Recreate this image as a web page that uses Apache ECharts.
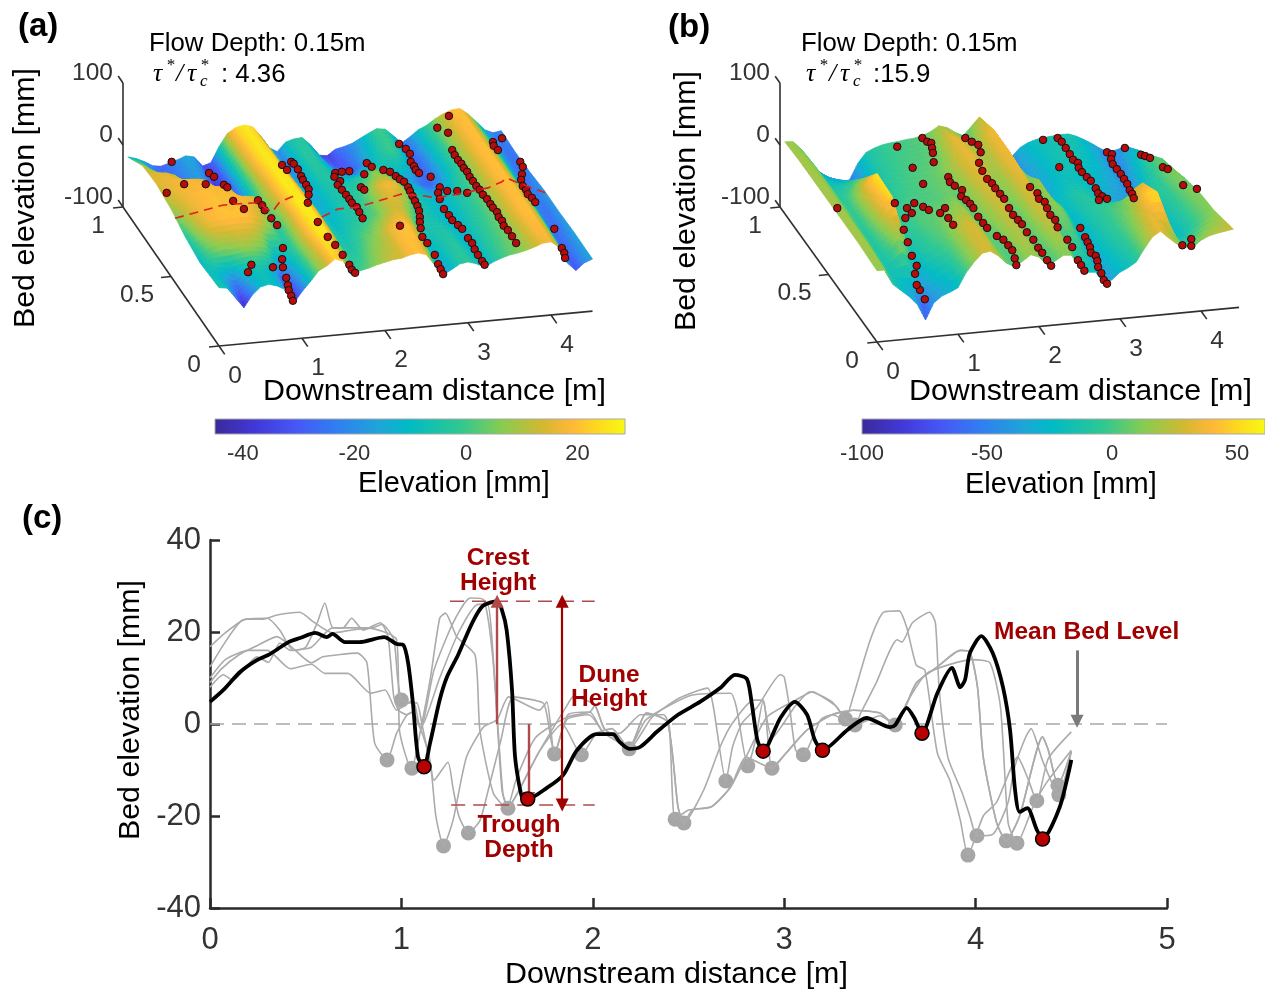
<!DOCTYPE html>
<html>
<head>
<meta charset="utf-8">
<title>Bed elevation</title>
<script src="https://cdn.jsdelivr.net/npm/echarts@6/dist/echarts.min.js"></script>
<style>
html,body{margin:0;padding:0;background:#fff;overflow:hidden}
#main{width:1265px;height:994px}
</style>
</head>
<body>
<div id="main"></div>
<script>
// ---- panel (a) surface, elevation in mm, one row per cross-stream position
var colsA = [0,0.1,0.2,0.3,0.4,0.5,0.6,0.7,0.8,0.9,1,1.1,1.2,1.3,1.4,1.5,1.6,1.7,1.8,1.9,2,2.1,2.2,2.3,2.4,2.5,2.6,2.7,2.8,2.9,3,3.1,3.2,3.3,3.4,3.5,3.6,3.7,3.8,3.9,4,4.1,4.2,4.3,4.4,4.5];
var rowsA = [0.95,0.8,0.72,0.65,0.58,0.5,0.35,0.2,0.1,0];
var bedA95 = [-8,-12,-18,-26,-28,-24,-20,-15,-18,-34,-30,-5,15,23,26,22,6,-14,-22,-8,-4,-3,-16,-34,-36,-27,-24,-20,-13,-6,0,-2,-14,-27,-18,-8,-2,7,14,19,20,10,-4,-18,-24,-22];
var bedA80 = [12,4,-18,-24,-26,-24,-20,-18,-25,-38,-34,-5,14,22,26,23,8,-14,-22,-10,-3,-4,-12,-22,-30,-32,-24,-15,-8,-3,0,-5,-18,-30,-22,-10,-3,7,14,19,20,10,-3,-18,-26,-24];
var bedA72 = [14,16,15,10,-8,-18,-18,-14,-28,-39,-33,-5,13,22,26,24,9,-12,-20,-10,-4,-4,-9,-15,-18,-17,-10,-6,-6,-8,-7,-12,-22,-29,-21,-10,-3,7,14,19,20,10,-4,-19,-26,-23];
var bedA65 = [15,17,18,18,18,17,14,-8,-28,-40,-32,-5,12,21,26,24,10,-10,-18,-10,-5,-4,-6,-8,-5,-2,5,3,-5,-12,-14,-20,-26,-28,-20,-10,-3,7,14,19,20,10,-4,-20,-26,-22];
var bedA58 = [12,15,17,18,19,19,19,18,14,-8,-20,-3,11,20,26,25,12,-8,-16,-10,-6,-5,-5,-4,0,5,10,9,1,-8,-11,-15,-20,-19,-13,-6,-1,7,14,19,20,10,-5,-21,-25,-20];
var bedA50 = [9,13,16,18,19,20,20,20,19,18,16,6,10,20,26,25,14,-6,-14,-10,-6,-5,-4,0,6,15,18,17,8,-3,-8,-10,-14,-10,-6,-3,1,8,14,19,20,10,-6,-22,-24,-18];
var bedA35 = [-3,8,14,18,19,20,20,20,18,14,8,-4,6,18,26,26,16,-4,-10,-8,-5,-3,0,3,9,13,13,5,-3,-6,-8,-10,-13,-9,-5,-2,2,8,14,19,20,11,-6,-24,-26,-18];
var bedA20 = [-10,0,4,6,6,8,8,6,3,-10,-8,-4,8,18,25,26,14,-5,-6,-2,3,6,11,17,20,20,12,-8,-8,-5,-4,-8,-13,-8,-3,0,3,8,14,19,20,10,-8,-28,-24,-16];
var bedA10 = [-8,-10,-16,-22,-14,-10,-7,-9,-16,-34,-20,-7,7,15,24,22,5,-3,-2,3,7,10,13,18,20,19,6,-14,-10,-5,-3,-7,-13,-7,-2,1,4,8,13,18,19,9,-13,-30,-22,-16];
var bedA00 = [-6,-8,-25,-42,-23,-11,-8,-12,-19,-42,-25,-10,6,13,23,18,-6,0,3,7,10,13,14,18,20,16,-2,-19,-12,-4,-2,-6,-13,-6,-1,3,5,8,12,17,18,8,-19,-32,-21,-16];
var bedA = [bedA95,bedA80,bedA72,bedA65,bedA58,bedA50,bedA35,bedA20,bedA10,bedA00];

// ---- panel (b) surface
var colsB = [0,0.1,0.2,0.3,0.4,0.5,0.6,0.7,0.8,0.9,1,1.1,1.2,1.3,1.4,1.5,1.6,1.7,1.8,1.9,2,2.1,2.2,2.3,2.4,2.5,2.6,2.7,2.8,2.9,3,3.1,3.2,3.3,3.4,3.5,3.6,3.7,3.8,3.9,4,4.1,4.2,4.3,4.4];
var rowsB = [0.95,0.8,0.65,0.5,0.35,0.2,0];
var bedB95 = [16,15,2,-22,-35,-45,-52,-58,-55,-30,-14,-8,-4,-2,-1,1,2,5,10,18,14,5,-2,12,26,8,-8,-25,-43,-30,-23,-19,-17,-16,-15,-15,-20,-27,-35,-44,-50,-48,-44,-50,-60];
var bedB80 = [18,18,6,-20,-22,-24,-22,-40,-45,-24,-10,-5,-2,0,1,2,4,8,22,34,28,18,14,30,38,16,-5,-25,-42,-34,-26,-20,-16,-14,-16,-20,-24,-30,-38,-50,-46,-26,-18,-32,-50];
var bedB65 = [18,18,6,-10,-5,5,14,-15,-20,-12,-5,-2,0,2,4,6,10,18,28,34,32,22,20,32,38,16,-5,-25,-40,-32,-25,-20,-20,-22,-25,-28,-30,-35,-40,-50,-30,-10,5,0,-25];
var bedB50 = [18,18,4,-6,20,42,55,10,-5,-2,0,1,2,2,4,8,5,14,24,32,28,12,16,30,34,8,20,-5,-18,-22,-15,-10,-12,-18,-25,-35,-38,-42,-45,-45,-10,-5,8,12,0];
var bedB35 = [18,18,2,-10,15,38,52,-5,-6,-2,3,4,8,12,16,20,4,10,20,28,24,4,12,28,30,2,14,8,-10,-30,-18,-10,-5,0,5,12,26,34,-8,-30,-15,-8,2,10,10];
var bedB20 = [18,18,0,-14,-2,16,6,-25,-14,-8,-2,3,14,26,30,24,6,4,14,24,18,2,10,24,26,-2,4,-2,-35,-30,-20,-12,-5,4,14,32,50,52,-8,-25,-20,-10,0,8,14];
var bedB00 = [15,15,-10,-21,-32,-46,-72,-46,-36,-31,-25,-2,14,27,29,20,7,0,8,17,12,-2,3,11,10,-9,-20,-21,-40,-36,-25,-19,-11,9,27,35,23,12,6,4,14,20,23,25,27];
var bedB = [bedB95,bedB80,bedB65,bedB50,bedB35,bedB20,bedB00];

// ---- dune crest/trough points on the surfaces, [projected distance m, projected elevation mm]
var pointsA = [[-0.57,197],[-0.63,147],[-0.42,161],[-0.16,161],[-0.12,179],[-0.06,173],[0.06,160],[0.10,156],[0.17,134],[0.30,121],[0.47,135],[0.52,127],[0.55,119],[0.63,106],[0.70,95],[0.77,58],[0.76,40],[0.77,27],[0.65,27],[0.39,31],[0.35,19],[0.81,10],[0.83,-2],[0.84,-10],[0.87,-19],[0.89,-27],[0.76,192],[0.82,184],
[0.87,197],[0.90,194],[0.95,185],[0.99,174],[1.01,168],[1.05,160],[1.08,153],[1.08,144],[1.07,131],[1.19,100],[1.31,76],[1.40,63],[1.49,47],[1.57,31],[1.60,23],[1.64,18],
[1.40,179],[1.39,173],[1.48,181],[1.57,182],[1.46,166],[1.43,160],[1.48,152],[1.53,144],[1.57,137],[1.60,131],[1.66,124],[1.69,116],[1.73,106],[1.71,156],[1.75,152],[1.75,177],
[1.78,195],[1.84,189],[1.98,184],[2.06,181],[2.13,174],[2.18,169],[2.23,165],[2.28,156],[2.30,150],[2.33,142],[2.36,134],[2.39,126],[2.41,118],[2.42,108],[2.42,100],[2.43,90],[2.45,76],[2.51,66],[2.60,47],[2.64,32],[2.67,24],[2.70,16],[2.18,94],
[2.17,226],[2.25,218],[2.30,210],[2.31,197],[2.35,190],[2.37,184],[2.41,179],[2.55,173],[2.63,252],[2.76,244],[2.77,271],
[2.66,156],[2.75,150],[2.87,150],[2.99,147],[2.64,147],[2.66,137],[2.71,121],[2.77,111],[2.81,103],[2.88,95],[2.93,89],[3.00,74],[3.05,66],[3.08,56],[3.12,47],[3.17,37],[3.20,31],
[2.81,216],[2.84,208],[2.88,200],[2.92,194],[2.95,187],[2.99,181],[3.02,173],[3.06,166],[3.10,158],[3.14,152],[3.18,144],[3.23,137],[3.27,129],[3.30,123],[3.35,116],[3.37,108],[3.41,102],[3.43,94],[3.48,87],[3.53,77],[3.58,66],
[3.30,229],[3.31,223],[3.36,216],[3.41,235],[3.63,197],[3.66,189],[3.65,177],[3.64,168],[3.66,158],[3.70,152],[3.72,145],[3.77,139],[3.81,132],[4.04,89],[4.13,58],[4.16,50],[4.17,42]];
var pointsB = [[-0.49,116],[0.25,215],[0.44,181],[0.57,155],[0.56,229],[0.62,223],[0.67,221],[0.68,213],[0.69,205],[0.70,190],
[0.59,-31],[0.53,-16],[0.49,-8],[0.47,10],[0.49,23],[0.43,39],[0.38,61],[0.33,81],[0.35,100],[0.37,116],[0.43,108],[0.22,124],[0.46,124],[0.57,118],[0.64,113],[0.84,116],[0.78,108],[0.88,100],[0.94,89],
[0.88,166],[0.90,158],[0.96,152],[1.05,145],[1.04,135],[1.10,129],[1.15,123],[1.19,116],[1.25,102],[1.31,92],[1.36,84],[1.48,71],[1.56,65],[1.62,56],[1.67,48],[1.70,35],[1.72,24],
[1.09,229],[1.17,223],[1.25,218],[1.28,206],[1.26,189],[1.30,176],[1.36,163],[1.42,156],[1.46,148],[1.52,139],[1.57,131],[1.63,116],[1.68,105],[1.74,97],[1.79,90],[1.85,77],[1.93,65],[1.99,52],[2.04,44],[2.10,32],[2.15,23],
[1.89,150],[1.98,140],[2.00,131],[2.07,126],[2.10,116],[2.14,105],[2.20,97],[2.23,85],[2.35,65],[2.41,53],[2.48,32],[2.52,24],[2.56,15],
[2.05,226],[2.23,229],[2.28,223],[2.33,213],[2.38,203],[2.42,194],[2.48,189],[2.49,181],[2.53,174],[2.59,166],[2.64,160],[2.70,148],[2.73,140],[2.78,135],[2.84,131],[2.74,129],[2.25,182],
[2.51,84],[2.57,69],[2.60,61],[2.63,53],[2.64,44],[2.70,39],[2.72,31],[2.73,21],[2.77,11],[2.80,0],[2.84,-6],
[2.84,206],[2.90,203],[2.89,195],[2.91,187],[2.96,179],[3.01,171],[3.05,163],[3.09,155],[3.12,145],[3.15,139],[3.17,132],
[3.06,213],[3.26,202],[3.31,200],[3.37,197],[3.53,182],[3.59,179],[3.78,153],[3.95,147],[3.88,66],[3.88,55],[3.77,56]];
// dashed profile across panel (a)
var profileA = [[-0.53,106],[0.04,127],[0.19,129],[0.47,131],[0.64,116],[0.73,132],[0.95,145],null,[1.24,108],[1.43,121],[1.67,124],[2.0,137],[2.2,145],[2.48,142],[2.6,139],[2.84,144],[3.24,155],[3.41,165],[3.47,171],[3.57,165],[3.93,147]];

// ---- 3d box ticks
var distTicks = [0,1,2,3,4];
var crossTicks = [0,0.5,1];
var elevTicks = [-100,0,100];

// ---- colorbars
var barTicksA = [-40,-20,0,20];
var barTicksB = [-100,-50,0,50];
var paletteStops = [0,0.1,0.2,0.3,0.4,0.47,0.6,0.7,0.8,0.87,0.93,1];
var paletteColors = ['#3a2a9a','#4238d8','#4658f8','#2f80f0','#1ea5d8','#00bac6','#30c890','#88cc50','#d4b830','#ffb838','#fcd820','#f8fa10'];

// ---- panel (c) profiles
var profileMain = [[0,4.8],[0.07,7.4],[0.157,11.3],[0.245,13.9],[0.313,15.2],[0.41,17.8],[0.47,18.7],[0.55,19.8],[0.61,18.9],[0.64,19.6],[0.705,17.8],[0.78,17.8],[0.91,18.9],[0.975,17.4],[1.01,17.2],[1.035,13.3],[1.06,4.6],[1.087,-7.2],[1.118,-9.3],[1.15,-4.1],[1.2,5.2],[1.238,10.2],[1.296,15],[1.37,22],[1.426,25.7],[1.5,26.7],[1.525,24.8],[1.55,20.4],[1.578,7.4],[1.594,-7.2],[1.63,-15.9],[1.66,-16.3],[1.76,-13.9],[1.845,-11.1],[1.917,-5.7],[2.02,-2.2],[2.106,-2.2],[2.14,-3.9],[2.19,-5.4],[2.247,-5],[2.335,-1.7],[2.445,2],[2.56,4.8],[2.665,7.8],[2.743,10.7],[2.805,9.8],[2.83,4.6],[2.86,-3.5],[2.89,-5.9],[2.98,1.3],[3.056,4.8],[3.12,2],[3.16,-3.5],[3.2,-5.7],[3.33,-1.3],[3.43,1.3],[3.553,-0.7],[3.58,-0.2],[3.64,3.5],[3.68,1.3],[3.72,-2],[3.8,6.7],[3.876,12.2],[3.92,8],[3.945,9.6],[3.97,15.4],[4.03,19.1],[4.09,15.4],[4.143,8],[4.18,-1.3],[4.206,-14.3],[4.23,-19.1],[4.27,-18.3],[4.32,-23],[4.35,-25],[4.44,-18],[4.5,-7.8]];
var troughsMain = [[1.118,-9.3],[1.66,-16.3],[2.89,-5.9],[3.2,-5.7],[3.72,-2],[4.35,-25]];
var profileGrayA = [[0,16.8],[0.08,19.8],[0.19,22.8],[0.28,22.8],[0.35,23.7],[0.47,24.3],[0.54,22.2],[0.64,19.8],[0.75,20.5],[0.85,20.9],[0.9,21.7],[0.96,18.3],[0.98,10],[1,5.2],[1.04,4.6],[1.08,4.6],[1.11,-0.6],[1.15,-8.5],[1.17,-12.2],[1.243,-8.3],[1.27,-14],[1.3,-20],[1.35,-23.7],[1.41,-21],[1.45,-15],[1.52,-3.5],[1.585,5.9],[1.74,4.6],[1.76,2],[1.8,-6.5],[1.87,2],[1.985,2.6],[2.06,-2],[2.14,-2],[2.25,2],[2.37,2],[2.4,-0.6],[2.43,-20.7],[2.5,-18.7],[2.62,-18],[2.72,-13.7],[2.8,-7.2],[2.91,1.5],[3.06,5.2],[3.15,7],[3.2,5.9],[3.275,3.7],[3.32,1.1],[3.36,5.9],[3.45,18.3],[3.52,24.3],[3.6,24.6],[3.64,21],[3.69,12.8],[3.735,11.7],[3.8,-6.3],[3.865,-12.2],[3.92,-20.9],[3.96,-28.5],[4.04,-20],[4.11,-17],[4.22,-7.2],[4.27,-11.5],[4.32,-16.7],[4.38,-7.5],[4.5,-1.7]];
var profileGrayB = [[0,12.4],[0.07,17.2],[0.17,22.6],[0.3,23],[0.365,20.4],[0.435,16],[0.5,16.7],[0.56,22],[0.6,26.3],[0.64,21],[0.695,20.9],[0.74,23],[0.8,20.4],[0.89,22],[0.93,19],[0.96,6],[0.985,3],[1.03,2],[1.06,2.6],[1.1,-1],[1.17,11.7],[1.27,22],[1.36,27.4],[1.43,27],[1.48,13.3],[1.525,-14.3],[1.557,-18.3],[1.62,-14],[1.72,-6],[1.865,4],[1.9,6],[2.01,4.1],[2.06,-1],[2.13,-3],[2.19,-5.4],[2.31,1.5],[2.455,5.7],[2.6,7.8],[2.63,3.7],[2.695,-12.4],[2.73,-5],[2.78,0.2],[2.86,3.7],[2.98,10.7],[3,10.2],[3.03,3],[3.06,-5.7],[3.1,-6.7],[3.19,0.9],[3.25,2],[3.37,-0.2],[3.4,2.4],[3.48,8.9],[3.59,18.3],[3.615,17.8],[3.67,22],[3.76,24.3],[3.79,22],[3.81,7.4],[3.855,-7.2],[3.93,-15],[3.97,-20],[4.007,-24.3],[4.09,-24],[4.17,-17],[4.2,-10],[4.26,-3],[4.29,-1],[4.35,-8],[4.435,-15.4],[4.5,-6]];
var profileGrayC = [[0,8],[0.07,10.7],[0.12,9.5],[0.245,14.6],[0.305,13.4],[0.365,17.6],[0.42,16],[0.53,16.7],[0.64,20.9],[0.82,20.9],[0.975,18.3],[0.99,-1.3],[1.035,-8.5],[1.055,-9.6],[1.1,-1.3],[1.15,9.6],[1.2,23],[1.23,24.1],[1.29,18.9],[1.385,15],[1.41,-1.3],[1.48,-15],[1.55,-18.3],[1.6,-12],[1.7,-3],[1.865,1.5],[1.985,2.6],[2.01,4],[2.06,-1],[2.19,-5],[2.28,1],[2.52,6.3],[2.72,6.7],[2.75,3.7],[2.81,-9.1],[2.85,-3.5],[2.89,5],[2.936,-3],[3.06,4],[3.135,7],[3.25,4.8],[3.32,1.1],[3.37,-0.2],[3.5,1.8],[3.58,-0.2],[3.64,4.6],[3.745,11],[3.985,14],[4.075,13.3],[4.13,3.7],[4.17,-21.5],[4.216,-25.9],[4.3,-18],[4.37,-12.8],[4.5,-5.7]];
var profileGrayD = [[0,9],[0.06,12],[0.15,15],[0.245,17],[0.35,19],[0.42,17],[0.53,13.3],[0.59,14.6],[0.77,15.4],[0.82,13.3],[0.86,-4.1],[0.925,-7.8],[0.975,-2],[1.03,2],[1.06,2.6],[1.1,-1],[1.15,-8],[1.18,-20],[1.22,-26.5],[1.27,-20.9],[1.34,-7.2],[1.43,-0.6],[1.5,0.9],[1.56,5.9],[1.72,3],[1.76,4.8],[1.8,-6.5],[1.865,1],[1.98,2],[2.06,-2],[2.19,-5],[2.28,2.4],[2.39,0.4],[2.445,-18],[2.476,-21.5],[2.52,-18.7],[2.62,-18],[2.72,-13.7],[2.8,-7.2],[2.936,-9.6],[3.01,-6.3],[3.12,-1.3],[3.25,2],[3.36,3],[3.5,2.4],[3.58,-0.2],[3.62,2.4],[3.69,8.9],[3.8,12.4],[3.92,16],[3.97,15.7],[4.01,8],[4.04,-7.2],[4.11,-21.5],[4.16,-25.4],[4.23,-20],[4.35,-2.8],[4.38,-5.7],[4.43,-13.3],[4.5,-6]];
var profileGrayE = [[0,10],[0.08,14],[0.2,16],[0.3,16],[0.42,12],[0.53,13],[0.6,11],[0.72,11],[0.84,6.7],[0.915,7.4],[0.975,3],[1.06,5.2],[1.1,-1],[1.2,10],[1.3,20],[1.4,26],[1.45,26],[1.49,8],[1.53,-15],[1.557,-18],[1.62,-14],[1.72,-6],[1.84,0],[1.94,-6.7],[2.02,-2],[2.1,-1],[2.19,-5.4],[2.28,2.4],[2.39,0.4],[2.445,-18],[2.476,-21.5],[2.58,-14.3],[2.665,-5],[2.73,0.2],[2.84,5.2],[2.89,5.2],[2.936,-9.6],[3.01,-6.3],[3.12,-1.3],[3.25,2],[3.36,3],[3.5,2.4],[3.58,-0.2],[3.62,2.4],[3.69,8.9],[3.8,12.4],[3.92,16],[3.97,15.7],[4.01,8],[4.04,-7.2],[4.11,-21.5],[4.16,-25.4],[4.23,-20],[4.35,-2.8],[4.38,-5.7],[4.43,-13.3],[4.5,-6]];
var troughsGray = [[0.925,-7.8],[1,5.2],[1.055,-9.6],[1.22,-26.5],[1.35,-23.7],[1.557,-18.3],[1.8,-6.5],[1.94,-6.7],[2.19,-5.4],[2.43,-20.7],[2.476,-21.5],[2.695,-12.4],[2.81,-9.1],[2.936,-9.6],[3.1,-6.7],[3.32,1.1],[3.37,-0.2],[3.58,-0.2],[3.96,-28.5],[4.007,-24.3],[4.16,-25.4],[4.216,-25.9],[4.32,-16.7],[4.43,-13.3],[4.435,-15.4]];
var crestLevel = 26.7;
var troughLevel = -17.6;
var noteTexts = [[1.505,36,'Crest'],[1.505,30.7,'Height'],[2.085,10.7,'Dune'],[2.085,5.4,'Height'],[1.614,-22,'Trough'],[1.614,-27.4,'Depth'],[4.58,20,'Mean Bed Level']];

var FONT = '"Liberation Sans", Helvetica, Arial, sans-serif';
var DARK = '#333333';
var RED = '#a00000';

function paletteColor(t) {
	if (t <= 0) return paletteColors[0];
	if (t >= 1) return paletteColors[paletteColors.length-1];
	for (var i=1;i<paletteStops.length;i++) {
		if (t <= paletteStops[i]) {
			var f = (t-paletteStops[i-1])/(paletteStops[i]-paletteStops[i-1]);
			return echarts.color.lerp(f, [paletteColors[i-1], paletteColors[i]]);
		}
	}
}

// view: screen plane of a 3d panel, hidden axes are metres and mm on that plane
var viewA = {cross: 96/83, slope: 7.75/0.62, rise: 139/0.62, min: -45, max: 28.5};
var viewB = {cross: 97/81, slope: 7.75/0.62, rise: 135/0.62, min: -100, max: 61.2};
function project(view, x, y, z) {
	return [x - view.cross*y, z + view.slope*x + view.rise*y];
}

function surfaceSeries(view, cols, rows, bed, axisIndex) {
	var cells = [];
	for (var i=0;i<rows.length-1;i++) {
		for (var j=cols.length-2;j>=0;j--) cells.push([i,j]);
	}
	var N = 5;
	return {
		type: 'custom',
		xAxisIndex: axisIndex,
		yAxisIndex: axisIndex,
		silent: true,
		clip: false,
		animation: false,
		progressive: 0,
		data: cells,
		renderItem: function(params, api) {
			var i = api.value(0), j = api.value(1);
			var kids = [];
			for (var a=0;a<N;a++) {
				for (var b=N-1;b>=0;b--) {
					var corners = [[a,b],[a,b+1],[a+1,b+1],[a+1,b]];
					var pts = [], sum = 0;
					for (var c=0;c<4;c++) {
						var s = corners[c][0]/N, t = corners[c][1]/N;
						var z = (1-s)*((1-t)*bed[i][j]+t*bed[i][j+1]) + s*((1-t)*bed[i+1][j]+t*bed[i+1][j+1]);
						var x = cols[j]+t*(cols[j+1]-cols[j]);
						var y = rows[i]+s*(rows[i+1]-rows[i]);
						pts.push(api.coord(project(view,x,y,z)));
						sum += z;
					}
					var col = paletteColor((sum/4-view.min)/(view.max-view.min));
					kids.push({type:'polygon', shape:{points:pts}, style:{fill:col, stroke:col, lineWidth:0.7}});
				}
			}
			return {type:'group', children:kids};
		}
	};
}

function boxSeries(view, axisIndex, xEnd) {
	return {
		type: 'custom',
		xAxisIndex: axisIndex,
		yAxisIndex: axisIndex,
		silent: true,
		clip: false,
		animation: false,
		data: [[0]],
		renderItem: function(params, api) {
			var kids = [];
			function seg(p, q) {
				var a = api.coord(project(view,p[0],p[1],p[2]));
				var b = api.coord(project(view,q[0],q[1],q[2]));
				kids.push({type:'line', shape:{x1:a[0],y1:a[1],x2:b[0],y2:b[1]}, style:{stroke:'#303030', lineWidth:1.6}});
				return a;
			}
			function label(text, at, dx, dy) {
				kids.push({type:'text', style:{text:text, x:at[0]+dx, y:at[1]+dy, font:'24.5px '+FONT, fill:DARK, align:'center', verticalAlign:'middle'}});
			}
			seg([0,1,-100],[0,1,100]);
			seg([0,1,-100],[0,0,-100]);
			seg([0,0,-100],[xEnd,0,-100]);
			distTicks.forEach(function(v) {
				var at = seg([v,0,-100],[v,-0.06,-100]);
				label(String(v), at, 16, 30);
			});
			crossTicks.forEach(function(v) {
				var at = seg([0,v,-100],[-0.12,v,-100]);
				label(String(v), at, v==0.5 ? -34 : -25, 19);
			});
			elevTicks.forEach(function(v) {
				var at = seg([0,1,v],[0,1.05,v]);
				var t = String(v);
				kids.push({type:'text', style:{text:t, x:at[0]-10, y:at[1]-10, font:'24.5px '+FONT, fill:DARK, align:'right', verticalAlign:'middle'}});
			});
			return {type:'group', children:kids};
		}
	};
}

function barSeries(axisIndex, lo, hi) {
	var stops = paletteStops.map(function(s,i) { return {offset:s, color:paletteColors[i]}; });
	return {
		type: 'custom',
		xAxisIndex: axisIndex,
		yAxisIndex: axisIndex,
		silent: true,
		animation: false,
		z: 1,
		data: [[lo,hi]],
		renderItem: function(params, api) {
			var a = api.coord([api.value(0),0]);
			var b = api.coord([api.value(1),1]);
			return {type:'rect', shape:{x:a[0],y:b[1],width:b[0]-a[0],height:a[1]-b[1]},
				style:{fill:new echarts.graphic.LinearGradient(0,0,1,0,stops), stroke:'#a8a8a8', lineWidth:1}};
		}
	};
}

function grayLine(data) {
	return {type:'line', xAxisIndex:2, yAxisIndex:2, data:data, symbol:'none', silent:true, animation:false, smooth:0.2,
		lineStyle:{color:'#ababab', width:1.6}};
}
function refLine(data, color, width) {
	return {type:'line', xAxisIndex:2, yAxisIndex:2, data:data, symbol:'none', silent:true, animation:false,
		lineStyle:{color:color, width:width, type:[14,8]}};
}
function arrow(from, to, color, width, both) {
	return [
		{coord:from, symbol: both ? 'triangle' : 'none', symbolSize:13, lineStyle:{color:color, width:width, type:'solid'}, itemStyle:{color:color}},
		{coord:to, symbol:'triangle', symbolSize:13, itemStyle:{color:color}}
	];
}

function hiddenAxis(gridIndex, lo, hi) {
	return {type:'value', gridIndex:gridIndex, min:lo, max:hi, show:false};
}
function barAxis(gridIndex, lo, hi, ticks) {
	return {type:'value', gridIndex:gridIndex, min:lo, max:hi, splitLine:{show:false},
		axisLine:{show:false},
		axisTick:{show:true, inside:true, length:5, customValues:ticks, lineStyle:{color:'#444', width:1}},
		axisLabel:{show:true, customValues:ticks, margin:9, fontFamily:FONT, fontSize:22, color:DARK, hideOverlap:false, showMinLabel:true, showMaxLabel:true}};
}
function mainAxis(gridIndex, lo, hi, step, labelMargin, labelPad) {
	return {type:'value', gridIndex:gridIndex, min:lo, max:hi, interval:step, splitLine:{show:false},
		axisLine:{show:true, onZero:false, lineStyle:{color:'#2a2a2a', width:2.5}},
		axisTick:{show:true, inside:true, length:10, lineStyle:{color:'#2a2a2a', width:2.5}},
		axisLabel:{fontFamily:FONT, fontSize:31, color:DARK, margin:labelMargin, padding:labelPad}};
}

function textItem(text, x, y, font, rot, color) {
	return {type:'text', x:rot ? x+2 : x, y:rot ? y : y+2, rotation:rot||0, silent:true,
		style:{text:text, font:font, fill:color||'#000', align:rot?'center':'left', verticalAlign:'middle'}};
}
var NAME = '30.4px '+FONT, BAR = '29px '+FONT, SMALL = '25.8px '+FONT, PANEL = 'bold 33px '+FONT;
var GREEK = 'italic 26px "Liberation Serif", "DejaVu Serif", serif';
var SCRIPT = 'italic 17px "Liberation Serif", "DejaVu Serif", serif';
var labels = [
	textItem('(a)',18,25,PANEL), textItem('(b)',668,26,PANEL), textItem('(c)',22,517,PANEL),
	textItem('Flow Depth: 0.15m',149,42,SMALL), textItem('Flow Depth: 0.15m',801,42,SMALL),
	textItem('\u03c4',153,72,GREEK), textItem('*',166,64,SCRIPT), textItem('/',176,72,GREEK), textItem('\u03c4',187,72,GREEK), textItem('*',200,64,SCRIPT), textItem('c',200,80,SCRIPT), textItem(': 4.36',221,73,SMALL),
	textItem('\u03c4',806,72,GREEK), textItem('*',819,64,SCRIPT), textItem('/',829,72,GREEK), textItem('\u03c4',840,72,GREEK), textItem('*',853,64,SCRIPT), textItem('c',853,80,SCRIPT), textItem(':15.9',873,73,SMALL),
	textItem('Bed elevation [mm]',24,198,NAME,Math.PI/2), textItem('Bed elevation [mm]',685,201,NAME,Math.PI/2), textItem('Bed elevation [mm]',129,710,NAME,Math.PI/2),
	textItem('Downstream distance [m]',263,390,NAME), textItem('Downstream distance [m]',909,390,NAME), textItem('Downstream distance [m]',505,973,NAME),
	textItem('Elevation [mm]',358,482,BAR), textItem('Elevation [mm]',965,483,BAR)
];

var myChart = echarts.init(document.getElementById('main'), null, {renderer:'canvas'});
var option = {
	backgroundColor: '#fff',
	animation: false,
	grid: [
		{left:119.4, top:79.4, width:481.4, height:272.8},
		{left:763.6, top:75.4, width:486, height:272.8},
		{left:210, top:540, width:957, height:368},
		{left:215, top:419, width:410, height:15},
		{left:862, top:419, width:403, height:15}
	],
	xAxis: [
		hiddenAxis(0,-1.2,4.6), hiddenAxis(1,-1.4,4.6),
		mainAxis(2,0,5,1,17,0),
		barAxis(3,-45,28.5,barTicksA), barAxis(4,-100,61.2,barTicksB)
	],
	yAxis: [
		hiddenAxis(0,-110,330), hiddenAxis(1,-110,330),
		mainAxis(2,-40,40,20,9,[4,0,0,0]),
		hiddenAxis(3,0,1), hiddenAxis(4,0,1)
	],
	graphic: labels,
	series: [
		boxSeries(viewA,0,4.5),
		boxSeries(viewB,1,4.47),
		surfaceSeries(viewA,colsA,rowsA,bedA,0),
		surfaceSeries(viewB,colsB,rowsB,bedB,1),
		{type:'line', xAxisIndex:0, yAxisIndex:0, data:profileA, symbol:'none', silent:true, animation:false, connectNulls:false,
			lineStyle:{color:'#e02020', width:1.6, type:[9,6]}},
		{type:'scatter', xAxisIndex:0, yAxisIndex:0, data:pointsA, symbolSize:7.5, silent:true, animation:false,
			itemStyle:{color:'#b80c0c', borderColor:'#111', borderWidth:1, opacity:1}},
		{type:'scatter', xAxisIndex:1, yAxisIndex:1, data:pointsB, symbolSize:7.5, silent:true, animation:false,
			itemStyle:{color:'#b80c0c', borderColor:'#111', borderWidth:1, opacity:1}},
		barSeries(3,-45,28.5),
		barSeries(4,-100,61.2),
		grayLine(profileGrayA), grayLine(profileGrayB), grayLine(profileGrayC), grayLine(profileGrayD), grayLine(profileGrayE),
		{type:'scatter', xAxisIndex:2, yAxisIndex:2, data:troughsGray, symbolSize:15, silent:true, animation:false, itemStyle:{color:'#a6a6a6', opacity:1}},
		refLine([[0,0],[5,0]],'#a8a8a8',1.6),
		refLine([[1.254,crestLevel],[2.01,crestLevel]],'#b04a4a',1.5),
		refLine([[1.26,troughLevel],[2.01,troughLevel]],'#b04a4a',1.5),
		{type:'line', xAxisIndex:2, yAxisIndex:2, data:profileMain, symbol:'none', silent:true, animation:false, smooth:0.25,
			lineStyle:{color:'#000', width:3.8}},
		{type:'scatter', xAxisIndex:2, yAxisIndex:2, data:troughsMain, symbolSize:14, silent:true, animation:false, z:5,
			itemStyle:{color:'#b80000', borderColor:'#000', borderWidth:1.5, opacity:1}},
		{type:'line', xAxisIndex:2, yAxisIndex:2, data:[], silent:true, animation:false, z:6,
			markLine:{silent:true, animation:false, label:{show:false},
				data:[
					arrow([1.5,0],[1.5,crestLevel],'#b04a4a',2.4,false),
					arrow([1.665,0],[1.665,-16.2],'#b04a4a',2.4,false),
					arrow([1.84,crestLevel],[1.84,troughLevel],RED,2.2,true),
					arrow([4.53,16],[4.53,0.6],'#7a7a7a',3,false)
				]}},
		{type:'scatter', xAxisIndex:2, yAxisIndex:2, data:noteTexts, symbolSize:0, silent:true, animation:false, z:7,
			itemStyle:{opacity:1},
			label:{show:true, position:'inside', formatter:function(p){return p.value[2];}, fontFamily:FONT, fontWeight:'bold', fontSize:24.5, color:RED, opacity:1}}
	]
};
myChart.setOption(option);
</script>
</body>
</html>
